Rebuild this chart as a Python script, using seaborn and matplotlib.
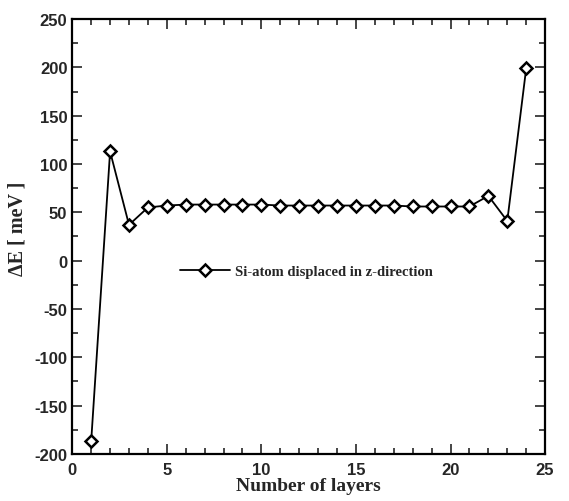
import numpy as np
import pandas as pd
import matplotlib
matplotlib.use("Agg")
import matplotlib.pyplot as plt
import seaborn as sns
from matplotlib.ticker import MultipleLocator

layers = list(range(1, 25))
delta_e = [-187, 113, 37, 55, 57, 58, 58, 58, 58, 58, 57, 57,
           57, 57, 57, 57, 57, 56, 56, 56, 56, 67, 41, 199]
series_label = "Si-atom displaced in z-direction"

df = pd.DataFrame({"layers": layers, "dE": delta_e})

sns.set_style("ticks")
plt.rcParams["font.family"] = ["Liberation Sans", "DejaVu Sans"]
plt.rcParams["axes.unicode_minus"] = False

fig = plt.figure(figsize=(5.69, 5.02), dpi=100)
ax = fig.add_axes([0.127, 0.094, 0.831, 0.866])

sns.lineplot(data=df, x="layers", y="dE", ax=ax, color="black", lw=1.3,
             marker="D", markersize=6.5, markerfacecolor="white",
             markeredgecolor="black", markeredgewidth=1.8,
             label=series_label)

ax.set_xlim(0, 25)
ax.set_ylim(-200, 250)
ax.xaxis.set_major_locator(MultipleLocator(5))
ax.xaxis.set_minor_locator(MultipleLocator(1))
ax.yaxis.set_major_locator(MultipleLocator(50))
ax.yaxis.set_minor_locator(MultipleLocator(25))
ax.tick_params(which="both", direction="in", top=True, right=True,
               labelsize=12, width=1.2)
ax.tick_params(axis="x", pad=6)
ax.tick_params(which="major", length=7)
ax.tick_params(which="minor", length=4)
for lab in ax.get_xticklabels() + ax.get_yticklabels():
    lab.set_fontweight("bold")
for s in ax.spines.values():
    s.set_linewidth(1.6)
    s.set_color("black")

ax.set_xlabel("Number of layers", fontsize=14, fontweight="bold",
              family="Liberation Serif", labelpad=0)
ax.set_ylabel("ΔE [ meV ]", fontsize=14.5, fontweight="bold",
              family="Liberation Serif", labelpad=2)
ax.yaxis.set_label_coords(-0.095, 0.52)

ax.legend(loc="center left", bbox_to_anchor=(0.2, 0.42), frameon=False,
          handlelength=3.4, handletextpad=0.4,
          prop={"family": "Liberation Serif", "weight": "bold", "size": 10.5})

fig.savefig("out.png", dpi=100)
